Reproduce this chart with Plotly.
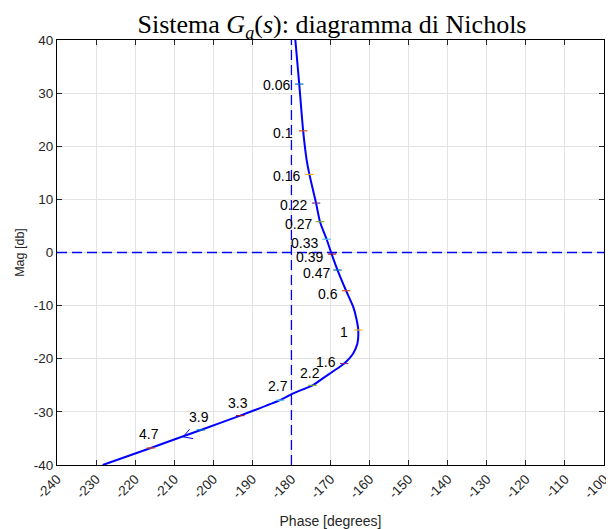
import math
import plotly.graph_objects as go

# ---- data ----
curve_phase = [-179.0, -178.0, -177.0, -176.1, -175.4, -173.7, -172.7, -171.0, -169.7,
               -168.2, -166.0, -164.2, -163.3, -162.9, -163.1, -164.2, -166.5, -167.6,
               -171.8, -174.6, -179.8, -182.9, -193.1, -203.2, -216.0, -228.3]
curve_mag = [40.0, 31.7, 22.9, 17.4, 14.7, 9.3, 5.8, 2.5, -0.3,
             -3.3, -7.2, -10.2, -12.7, -14.6, -17.1, -19.0, -20.9, -21.5,
             -23.6, -25.0, -26.6, -27.8, -30.7, -33.4, -36.8, -40.0]

freq_labels = ["0.06", "0.1", "0.16", "0.22", "0.27", "0.33", "0.39", "0.47", "0.6", "1",
               "1.6", "2.2", "2.7", "3.3", "3.9", "4.7"]
freq_phase = [-178.0, -177.0, -175.4, -173.7, -172.7, -171.0, -169.6, -168.2, -166.0, -162.9,
              -166.5, -174.6, -182.9, -193.1, -203.2, -216.0]
freq_mag = [31.7, 22.9, 14.7, 9.3, 5.8, 2.5, -0.3, -3.3, -7.2, -14.6,
            -20.9, -25.0, -27.8, -30.7, -33.4, -36.8]

arrow_phase = -207.7
arrow_mag = -34.7

crit_phase = -180
crit_mag = 0

x_ticks = list(range(-240, -99, 10))
y_ticks = list(range(-40, 41, 10))

# ---- styles ----
matlab_colors = ["#0072BD", "#D95319", "#EDB120", "#7E2F8E", "#77AC30", "#4DBEEE", "#A2142F"]
# label placement: (anchor, xshift px, yshift px)
label_place = [("right", -7, -1), ("right", -8, -2), ("right", -7, -2), ("right", -7, -2),
               ("right", -6, -2), ("right", -7, -4), ("right", -7, -3), ("right", -6, -3),
               ("right", -6, -3), ("right", -8, -2), ("right", -6, 2), ("center", -3, 12),
               ("center", -2, 14), ("center", -2, 13), ("center", -2, 13), ("center", -2, 14)]

# page body has an 8px margin: figure sized so it fills the window exactly
W, H = 606, 521
ML, MR, MT, MB = 49, 10, 32, 64
XR = [-240, -100]
YR = [-40, 40]
px_per_x = (W - ML - MR) / (XR[1] - XR[0])
px_per_y = (H - MT - MB) / (YR[1] - YR[0])

fig = go.Figure()

# reference dashed lines
dash_line = dict(color="#0000FF", width=1.3, dash="10px,5px")
fig.add_shape(type="line", xref="x", yref="y", x0=XR[0], x1=XR[1], y0=crit_mag, y1=crit_mag,
              line=dash_line, layer="above")
fig.add_shape(type="line", xref="x", yref="y", x0=crit_phase, x1=crit_phase, y0=YR[0], y1=YR[1],
              line=dash_line, layer="above")

# Nichols curve
fig.add_trace(go.Scatter(x=curve_phase, y=curve_mag, mode="lines",
                         line=dict(color="#0000FF", width=2, shape="spline", smoothing=0.6),
                         showlegend=False))

# direction arrow (chevron), arms built in pixel space along curve direction
i = 23
dxp = (curve_phase[i - 1] - curve_phase[i]) * px_per_x
dyp = (curve_mag[i - 1] - curve_mag[i]) * px_per_y
ang = math.atan2(dyp, dxp)
arm = 10
ax_pts, ay_pts = [], []
for s in (1, None, -1):
    if s is None:
        ax_pts.append(arrow_phase)
        ay_pts.append(arrow_mag)
    else:
        a = ang + s * math.radians(30)
        ax_pts.append(arrow_phase + arm * math.cos(a) / px_per_x)
        ay_pts.append(arrow_mag + arm * math.sin(a) / px_per_y)
fig.add_trace(go.Scatter(x=ax_pts, y=ay_pts, mode="lines",
                         line=dict(color="#0000FF", width=1), showlegend=False))

# frequency markers
fig.add_trace(go.Scatter(x=freq_phase, y=freq_mag, mode="markers",
                         marker=dict(symbol="line-ew", size=6,
                                     line=dict(width=1.2,
                                               color=[matlab_colors[k % 7] for k in range(len(freq_labels))])),
                         showlegend=False))

for lab, xp, yp, (anc, xs, ys) in zip(freq_labels, freq_phase, freq_mag, label_place):
    fig.add_annotation(x=xp, y=yp, text=lab, showarrow=False, xanchor=anc, yanchor="middle",
                       xshift=xs, yshift=ys,
                       font=dict(family="Liberation Sans, Arial, sans-serif", size=14, color="#000000"))

axis_font = dict(family="Liberation Sans, Arial, sans-serif", size=13.5, color="#262626")
fig.update_layout(
    width=W, height=H,
    margin=dict(l=ML, r=MR, t=MT, b=MB, autoexpand=False),
    paper_bgcolor="white", plot_bgcolor="white",
    title=dict(text="Sistema <i>G</i><sub><i>a</i></sub>(<i>s</i>): diagramma di Nichols",
               x=324 / W, xanchor="center", y=1 - 16 / H, yanchor="middle",
               font=dict(family="Liberation Serif, Times New Roman, serif", size=26, color="#000000")),
    xaxis=dict(range=XR, tickvals=x_ticks, ticktext=[str(v) for v in x_ticks], tickangle=-45,
               showgrid=True, gridcolor="#e3e3e3", gridwidth=1, zeroline=False,
               showline=True, linecolor="#000000", linewidth=1, mirror="ticks",
               ticks="inside", ticklen=5, tickcolor="#262626", tickfont=axis_font,
               title=dict(text="Phase [degrees]", standoff=15,
                          font=dict(family="Liberation Sans, Arial, sans-serif", size=14, color="#262626")),
               automargin=False),
    yaxis=dict(range=YR, tickvals=y_ticks, ticktext=[str(v) for v in y_ticks],
               showgrid=True, gridcolor="#e3e3e3", gridwidth=1, zeroline=False,
               showline=True, linecolor="#000000", linewidth=1, mirror="ticks",
               ticks="inside", ticklen=5, tickcolor="#262626", tickfont=axis_font,
               title=dict(text="Mag [db]", standoff=6,
                          font=dict(family="Liberation Sans, Arial, sans-serif", size=12.5, color="#262626")),
               automargin=False),
)

fig.write_html("out.html")
